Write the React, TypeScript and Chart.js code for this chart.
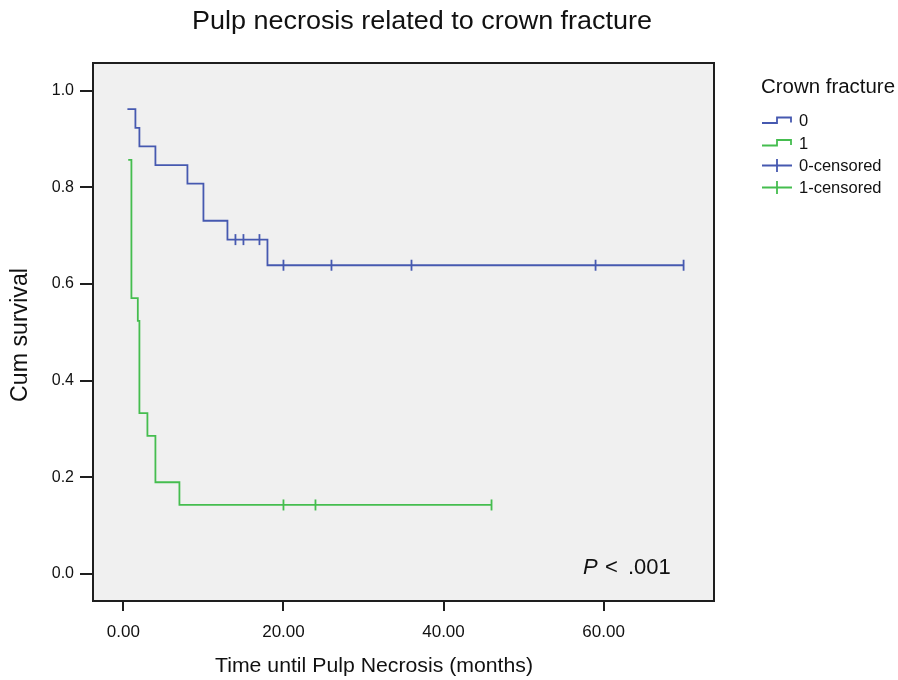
import { useEffect, useRef } from 'react';
import { Chart, registerables } from 'chart.js';
Chart.register(...registerables);

// Kaplan-Meier step data (time in months, cumulative survival)
const blueTimes = [0.5, 1.5, 2, 4, 8, 10, 13, 18, 70];
const blueSurv = [0.962, 0.923, 0.885, 0.846, 0.808, 0.731, 0.692, 0.639, 0.639];
const blueCensTimes = [14, 15, 17, 20, 26, 36, 59, 70];
const blueCensSurv = [0.692, 0.692, 0.692, 0.639, 0.639, 0.639, 0.639, 0.639];

const greenTimes = [0.6, 1, 1.8, 2, 3, 4, 7, 46];
const greenSurv = [0.857, 0.571, 0.524, 0.333, 0.286, 0.19, 0.143, 0.143];
const greenCensTimes = [20, 24, 46];
const greenCensSurv = [0.143, 0.143, 0.143];

const xTicks = [0, 20, 40, 60];
const yTicks = [0, 0.2, 0.4, 0.6, 0.8, 1.0];

const titleText = 'Pulp necrosis related to crown fracture';
const xTitle = 'Time until Pulp Necrosis (months)';
const yTitle = 'Cum survival';
const legendTitle = 'Crown fracture';
const legendLabels = ['0', '1', '0-censored', '1-censored'];

const BLUE = '#4659b0';
const GREEN = '#45bd4f';
const FONT = '"Liberation Sans", Arial, Helvetica, sans-serif';

const zip = (xs: number[], ys: number[]) => xs.map((x, i) => ({ x, y: ys[i] }));

// draw text horizontally fitted to a target width (small correction only)
function drawFit(ctx: CanvasRenderingContext2D, text: string, x: number, y: number, target: number, align: 'left' | 'center') {
  ctx.save();
  const w = ctx.measureText(text).width;
  const s = target / w;
  const sx = align === 'center' ? x - target / 2 : x;
  ctx.translate(sx, y);
  ctx.scale(s, 1);
  ctx.textAlign = 'left';
  ctx.fillText(text, 0, 0);
  ctx.restore();
}

export default function App() {
  const ref = useRef<HTMLCanvasElement>(null);
  useEffect(() => {
    if (!ref.current) return;
    const plugin = {
      id: 'kmDecor',
      beforeDraw(chart: any) {
        const { ctx, chartArea: a } = chart;
        ctx.save();
        ctx.fillStyle = '#ffffff';
        ctx.fillRect(0, 0, chart.width, chart.height);
        ctx.fillStyle = '#f0f0f0';
        ctx.fillRect(a.left, a.top, a.right - a.left, a.bottom - a.top);
        ctx.restore();
      },
      afterDraw(chart: any) {
        const { ctx, chartArea: a } = chart;
        ctx.save();
        ctx.strokeStyle = '#1e1e1e';
        ctx.lineWidth = 2;
        ctx.strokeRect(a.left, a.top, a.right - a.left, a.bottom - a.top);

        ctx.fillStyle = '#111';
        ctx.textBaseline = 'alphabetic';
        // Title
        ctx.font = `26px ${FONT}`;
        drawFit(ctx, titleText, 192, 28.5, 460, 'left');
        // X title
        ctx.font = `21px ${FONT}`;
        drawFit(ctx, xTitle, 215, 671.5, 318, 'left');
        // Y title
        ctx.save();
        ctx.translate(26.5, 335);
        ctx.rotate(-Math.PI / 2);
        ctx.font = `23px ${FONT}`;
        drawFit(ctx, yTitle, 0, 0, 134, 'center');
        ctx.restore();

        // P value
        ctx.font = `italic 22px ${FONT}`;
        ctx.textAlign = 'left';
        ctx.fillText('P', 583, 573.5);
        ctx.font = `22px ${FONT}`;
        ctx.fillText('<', 605, 573.5);
        ctx.fillText('.001', 628, 573.5);

        // Legend
        ctx.font = `20px ${FONT}`;
        drawFit(ctx, legendTitle, 761, 92.5, 134, 'left');
        ctx.font = `16.5px ${FONT}`;
        const baselines = [126, 148.5, 171, 193];
        const colors = [BLUE, GREEN, BLUE, GREEN];
        legendLabels.forEach((lab, i) => {
          ctx.fillStyle = '#111';
          ctx.fillText(lab, 799, baselines[i]);
          const cy = baselines[i] - 5.5;
          ctx.strokeStyle = colors[i];
          ctx.lineWidth = 1.8;
          ctx.beginPath();
          if (i < 2) {
            ctx.moveTo(762, cy + 2.5);
            ctx.lineTo(777, cy + 2.5);
            ctx.lineTo(777, cy - 3);
            ctx.lineTo(791, cy - 3);
            ctx.lineTo(791, cy + 2);
          } else {
            ctx.moveTo(762, cy);
            ctx.lineTo(792, cy);
            ctx.moveTo(777, cy - 6.5);
            ctx.lineTo(777, cy + 6.5);
          }
          ctx.stroke();
        });
        ctx.restore();
      },
    };

    const censorStyle = {
      showLine: false,
      pointStyle: 'line' as const,
      rotation: 90,
      pointRadius: 5.5,
      pointBorderWidth: 1.8,
      pointHoverRadius: 5.5,
    };

    const chart = new Chart(ref.current, {
      type: 'line',
      data: {
        datasets: [
          {
            label: '0',
            data: zip(blueTimes, blueSurv),
            borderColor: BLUE,
            borderWidth: 1.8,
            stepped: 'before',
            pointRadius: 0,
            fill: false,
          },
          {
            label: '1',
            data: zip(greenTimes, greenSurv),
            borderColor: GREEN,
            borderWidth: 1.8,
            stepped: 'before',
            pointRadius: 0,
            fill: false,
          },
          {
            label: '0-censored',
            data: zip(blueCensTimes, blueCensSurv),
            borderColor: BLUE,
            pointBorderColor: BLUE,
            ...censorStyle,
          },
          {
            label: '1-censored',
            data: zip(greenCensTimes, greenCensSurv),
            borderColor: GREEN,
            pointBorderColor: GREEN,
            ...censorStyle,
          },
        ],
      },
      options: {
        responsive: false,
        animation: false,
        layout: { padding: { top: 63, right: 184, left: 0, bottom: 0 } },
        plugins: { legend: { display: false }, title: { display: false }, tooltip: { enabled: false } },
        scales: {
          x: {
            type: 'linear',
            min: -3.8,
            max: 73.8,
            afterBuildTicks: (s: any) => { s.ticks = xTicks.map((v) => ({ value: v })); },
            afterFit: (s: any) => { s.height = 79; },
            border: { display: false },
            grid: { drawOnChartArea: false, drawTicks: true, tickLength: 10, color: '#1e1e1e', lineWidth: 2 },
            ticks: {
              padding: 11,
              color: '#111',
              font: { family: FONT, size: 17 },
              callback: (v: any) => Number(v).toFixed(2),
              maxRotation: 0,
            },
          },
          y: {
            type: 'linear',
            min: -0.0557,
            max: 1.0574,
            afterBuildTicks: (s: any) => { s.ticks = yTicks.map((v) => ({ value: v })); },
            afterFit: (s: any) => { s.width = 93; },
            border: { display: false },
            grid: { drawOnChartArea: false, drawTicks: true, tickLength: 13, color: '#1e1e1e', lineWidth: 2 },
            ticks: {
              padding: 6,
              color: '#111',
              font: { family: FONT, size: 16 },
              callback: (v: any) => Number(v).toFixed(1),
            },
          },
        },
      },
      plugins: [plugin],
    } as any);
    return () => chart.destroy();
  }, []);

  return (
    <div style={{ position: 'fixed', left: 0, top: 0, width: 898, height: 680, background: '#fff' }}>
      <canvas ref={ref} width={898} height={680} style={{ display: 'block', width: 898, height: 680 }} />
    </div>
  );
}
